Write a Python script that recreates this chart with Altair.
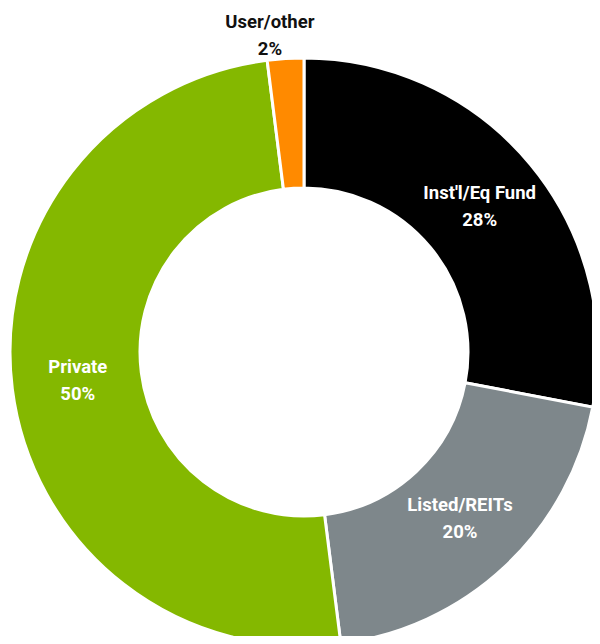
import altair as alt
import pandas as pd

categories = ["Inst'l/Eq Fund", "Listed/REITs", "Private", "User/other"]
shares = [28, 20, 50, 2]
palette = ["#000000", "#7e878b", "#84b800", "#ff8a00"]

df = pd.DataFrame({"category": categories, "share": shares, "order": list(range(len(categories)))})
df["label"] = df["category"] + "\n" + df["share"].astype(str) + "%"

cx, cy = 296, 344
outside = "datum.category == 'User/other'"

base = alt.Chart(df).encode(
    theta=alt.Theta("share:Q", stack=True),
    order=alt.Order("order:Q"),
    x=alt.value(cx),
    y=alt.value(cy),
)

arcs = base.mark_arc(innerRadius=164, outerRadius=294, stroke="white", strokeWidth=3).encode(
    color=alt.Color("category:N", scale=alt.Scale(domain=categories, range=palette), legend=None),
)

text_style = dict(font="Roboto", fontWeight="bold", fontSize=18.5, lineBreak="\n",
                  lineHeight=27, align="center", baseline="middle")

inner_labels = base.mark_text(radius=228, color="white", dy=-13.5, **text_style).encode(
    text=alt.condition(outside, alt.value(""), alt.Text("label:N")),
)

outer_labels = base.mark_text(radius=320, dx=-14, dy=-11, color="#111111", **text_style).encode(
    text=alt.condition(outside, alt.Text("label:N"), alt.value("")),
)

chart = alt.layer(arcs, inner_labels, outer_labels).properties(
    width=584, height=628, padding=0, autosize=alt.AutoSizeParams(type="none")
).configure_view(stroke=None)

chart.save("out.html", embed_options={"renderer": "svg", "actions": False})
